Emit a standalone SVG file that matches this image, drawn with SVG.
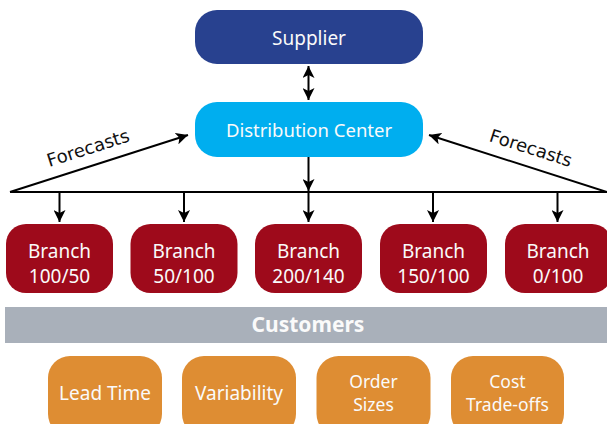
<svg xmlns="http://www.w3.org/2000/svg" width="607" height="424" viewBox="0 0 607 424">
<style>
.t{font-family:"Noto Sans","Open Sans",sans-serif;fill:#fafafa;text-anchor:middle}
.b{font-size:19px}
.s{font-size:17.5px}
.c{stroke:#000;stroke-width:2;fill:none}
.f{font-family:"DejaVu Sans",sans-serif;font-size:18px;fill:#111;text-anchor:middle}
</style>
<defs>
<marker id="ah" markerUnits="userSpaceOnUse" markerWidth="14" markerHeight="12" refX="12" refY="6" orient="auto-start-reverse">
<path d="M0,0 L12,6 L0,12 L3,6 z" fill="#000"/>
</marker>
</defs>
<rect width="607" height="424" fill="#fff"/>
<g id="connectors">
<line class="c" x1="308.5" y1="66" x2="308.5" y2="100" marker-start="url(#ah)" marker-end="url(#ah)"/>
<line class="c" x1="308.5" y1="157" x2="308.5" y2="191" marker-end="url(#ah)"/>
<line class="c" x1="10" y1="192" x2="607" y2="192"/>
<line class="c" x1="10" y1="192" x2="188" y2="135" marker-end="url(#ah)"/>
<line class="c" x1="607" y1="192" x2="429" y2="135" marker-end="url(#ah)"/>
<line class="c" x1="59.5" y1="192" x2="59.5" y2="222" marker-end="url(#ah)"/>
<line class="c" x1="184" y1="192" x2="184" y2="222" marker-end="url(#ah)"/>
<line class="c" x1="308.5" y1="192" x2="308.5" y2="222" marker-end="url(#ah)"/>
<line class="c" x1="433" y1="192" x2="433" y2="222" marker-end="url(#ah)"/>
<line class="c" x1="557.5" y1="192" x2="557.5" y2="222" marker-end="url(#ah)"/>
<text class="f" transform="translate(90,154) rotate(-17.8)">Forecasts</text>
<text class="f" transform="translate(529,154) rotate(17.8)">Forecasts</text>
</g>
<g id="supplier">
<rect x="195" y="10" width="228" height="54" rx="22" fill="#28418f"/>
<text class="t b" x="309" y="45">Supplier</text>
</g>
<g id="dc">
<rect x="195" y="102" width="228" height="55" rx="22" fill="#00aeef"/>
<text class="t" x="309" y="137" font-size="18.5">Distribution Center</text>
</g>
<g id="branch1">
<rect x="6" y="224" width="107" height="69" rx="20" fill="#9e0a1b"/>
<text class="t b" x="59.5" y="258">Branch</text>
<text class="t b" x="59.5" y="283">100/50</text>
</g>
<g id="branch2">
<rect x="130.5" y="224" width="107" height="69" rx="20" fill="#9e0a1b"/>
<text class="t b" x="184" y="258">Branch</text>
<text class="t b" x="184" y="283">50/100</text>
</g>
<g id="branch3">
<rect x="255" y="224" width="107" height="69" rx="20" fill="#9e0a1b"/>
<text class="t b" x="308.5" y="258">Branch</text>
<text class="t b" x="308.5" y="283">200/140</text>
</g>
<g id="branch4">
<rect x="380" y="224" width="107" height="69" rx="20" fill="#9e0a1b"/>
<text class="t b" x="433.5" y="258">Branch</text>
<text class="t b" x="433.5" y="283">150/100</text>
</g>
<g id="branch5">
<rect x="505" y="224" width="107" height="69" rx="20" fill="#9e0a1b"/>
<text class="t b" x="558" y="258">Branch</text>
<text class="t b" x="558" y="283">0/100</text>
</g>
<g id="customers">
<rect x="5" y="307" width="602" height="36" fill="#a9b0ba"/>
<text class="t" x="308" y="332" font-size="21" font-weight="bold">Customers</text>
</g>
<g id="leadtime">
<rect x="48" y="356" width="114" height="80" rx="22" fill="#de8d33"/>
<text class="t b" x="105" y="400">Lead Time</text>
</g>
<g id="variability">
<rect x="182" y="356" width="114" height="80" rx="22" fill="#de8d33"/>
<text class="t b" x="239" y="400">Variability</text>
</g>
<g id="ordersizes">
<rect x="316.5" y="356" width="114" height="80" rx="22" fill="#de8d33"/>
<text class="t s" x="373.5" y="388">Order</text>
<text class="t s" x="373.5" y="411">Sizes</text>
</g>
<g id="costtradeoffs">
<rect x="451" y="356" width="113" height="80" rx="22" fill="#de8d33"/>
<text class="t s" x="507.5" y="388">Cost</text>
<text class="t s" x="507.5" y="411">Trade-offs</text>
</g>
</svg>
